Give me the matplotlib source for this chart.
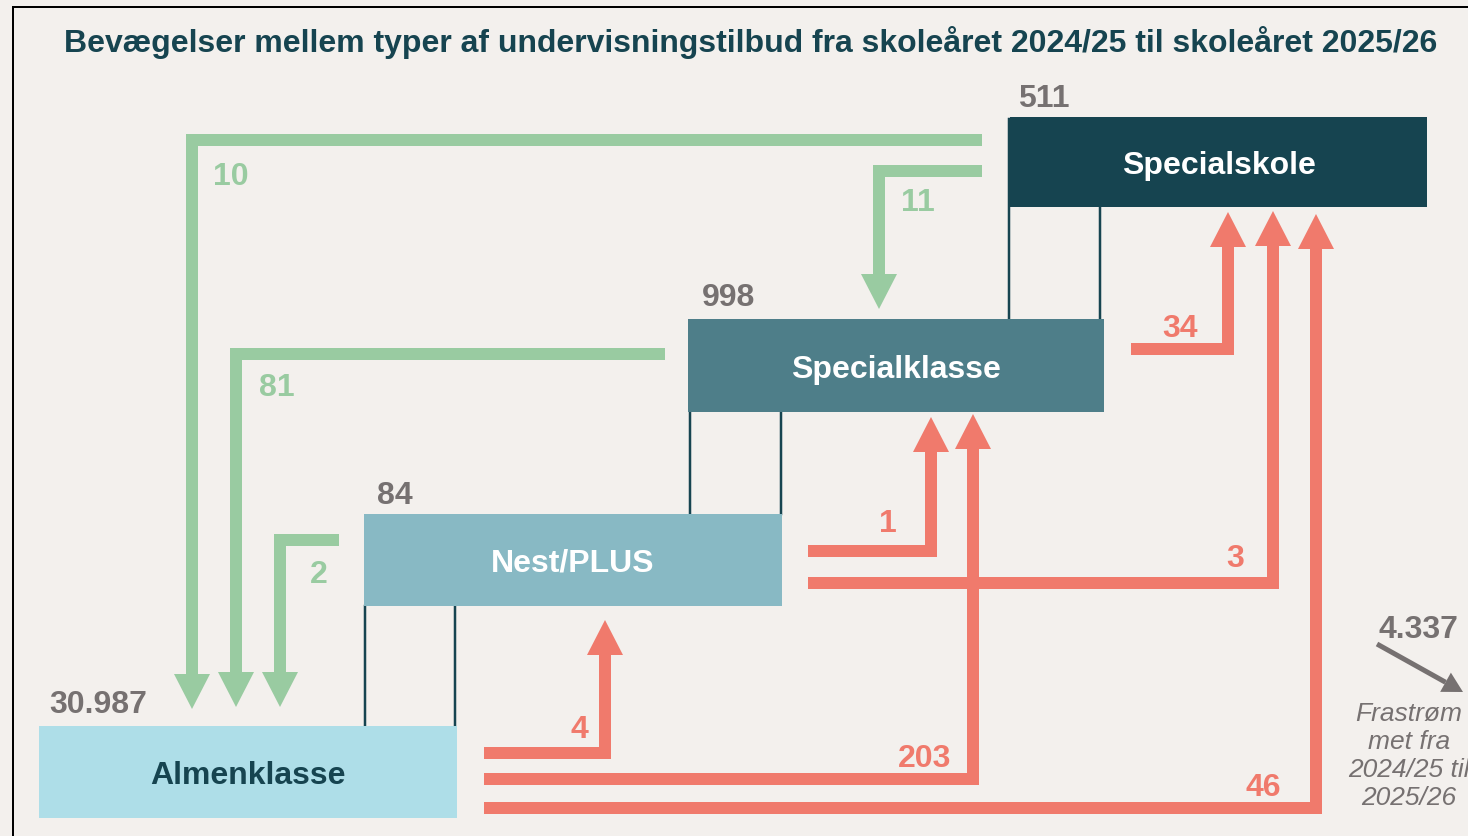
import matplotlib
matplotlib.use("Agg")
import matplotlib.pyplot as plt
from matplotlib.patches import Rectangle, Polygon
import numpy as np

# ---------------- data ----------------
title = "Bevægelser mellem typer af undervisningstilbud fra skoleåret 2024/25 til skoleåret 2025/26"
categories = ["Almenklasse", "Nest/PLUS", "Specialklasse", "Specialskole"]
totals = [30987, 84, 998, 511]

down_src = ["Specialskole", "Specialskole", "Specialklasse", "Nest/PLUS"]
down_dst = ["Almenklasse", "Specialklasse", "Almenklasse", "Almenklasse"]
down_vals = [10, 11, 81, 2]

up_src = ["Specialklasse", "Nest/PLUS", "Nest/PLUS", "Almenklasse", "Almenklasse", "Almenklasse"]
up_dst = ["Specialskole", "Specialklasse", "Specialskole", "Nest/PLUS", "Specialklasse", "Specialskole"]
up_vals = [34, 1, 3, 4, 203, 46]

outflow = 4337
outflow_text = "Frastrøm\nmet fra\n2024/25 til\n2025/26"

# ---------------- layout (pixels) ----------------
W, H = 1468, 837
box_geom = {  # x0, y0, x1, y1
    "Specialskole": (1010, 118, 1427, 208),
    "Specialklasse": (688, 320, 1104, 413),
    "Nest/PLUS": (364, 515, 782, 607),
    "Almenklasse": (39, 727, 457, 819),
}
box_color = {
    "Specialskole": "#164450",
    "Specialklasse": "#4E7E89",
    "Nest/PLUS": "#88B9C4",
    "Almenklasse": "#AEDEE8",
}
box_text_color = {
    "Specialskole": "white",
    "Specialklasse": "white",
    "Nest/PLUS": "white",
    "Almenklasse": "#164450",
}
total_pos = {
    "Specialskole": (1044, 99),
    "Specialklasse": (729, 298),
    "Nest/PLUS": (395, 496),
    "Almenklasse": (98, 705),
}
connectors = {  # (x, y from, y to)
    ("Specialskole", "Specialklasse"): ((1009, 120, 321), (1100, 208, 321)),
    ("Specialklasse", "Nest/PLUS"): ((690, 413, 515), (781, 413, 515)),
    ("Nest/PLUS", "Almenklasse"): ((365, 607, 727), (455, 607, 727)),
}
# route: start x, horizontal y, corner x, tip y ; label position
down_routes = [(982, 141, 192, 710), (982, 172, 879, 310), (665, 355, 236, 708), (339, 541, 280, 708)]
down_label_pos = [(231, 177), (918, 203), (277, 388), (319, 575)]
up_routes = [(1131, 350, 1228, 213), (808, 552, 931, 418), (808, 584, 1273, 212),
             (484, 754, 605, 621), (484, 780, 973, 415), (484, 809, 1316, 215)]
up_label_pos = [(1180, 329), (888, 524), (1235, 559), (579, 730), (925, 759), (1263, 788)]

GREEN = "#99CBA1"
RED = "#F07A6C"
GREY = "#767171"
DARK = "#164450"
BG = "#F3F0ED"
SHAFT_PX = 12
HEAD_W = 36
HEAD_L = 35
PT = 72.0 / 100.0  # points per pixel
FS = 23

FONT = "Liberation Sans"


def fmt(v):
    return f"{v:,}".replace(",", ".")


fig = plt.figure(figsize=(W / 100, H / 100), dpi=100)
fig.patch.set_facecolor(BG)
ax = fig.add_axes([0, 0, 1, 1])
ax.set_xlim(0, W)
ax.set_ylim(H, 0)
ax.axis("off")
ax.set_facecolor(BG)

# frame
ax.plot([13, 13, W + 5], [H + 5, 8, 8], color="black", lw=2 * PT, solid_joinstyle="miter", zorder=1)

# title
ax.text(751, 42, title, ha="center", va="center", fontsize=FS, fontweight="bold",
        color=DARK, family=FONT, zorder=5)

# connectors
for key, lines in connectors.items():
    for (x, y0, y1) in lines:
        ax.plot([x, x], [y0, y1], color=DARK, lw=2.5 * PT, zorder=2)

# boxes
for name in categories:
    x0, y0, x1, y1 = box_geom[name]
    ax.add_patch(Rectangle((x0, y0), x1 - x0, y1 - y0, facecolor=box_color[name],
                           edgecolor="none", zorder=3))
    ax.text((x0 + x1) / 2, (y0 + y1) / 2 + 3, name, ha="center", va="center", fontsize=FS,
            fontweight="bold", color=box_text_color[name], family=FONT, zorder=4)

for name, tot in zip(categories, totals):
    x, y = total_pos[name]
    ax.text(x, y, fmt(tot), ha="center", va="center", fontsize=FS, fontweight="bold",
            color=GREY, family=FONT, zorder=4)


def elbow_arrow(route, color, direction):
    sx, hy, cx, tip = route
    base = tip + HEAD_L * direction  # +1: arrow points up, -1: points down
    ax.plot([sx, cx, cx], [hy, hy, base], color=color, lw=SHAFT_PX * PT,
            solid_joinstyle="miter", solid_capstyle="butt", zorder=2)
    ax.add_patch(Polygon([(cx - HEAD_W / 2, base), (cx + HEAD_W / 2, base), (cx, tip)],
                         closed=True, facecolor=color, edgecolor="none", zorder=2))


for route, val, pos in zip(down_routes, down_vals, down_label_pos):
    elbow_arrow(route, GREEN, -1)
    ax.text(pos[0], pos[1], str(val), ha="center", va="center", fontsize=FS,
            fontweight="bold", color=GREEN, family=FONT, zorder=4)

for route, val, pos in zip(up_routes, up_vals, up_label_pos):
    elbow_arrow(route, RED, +1)
    ax.text(pos[0], pos[1], str(val), ha="center", va="center", fontsize=FS,
            fontweight="bold", color=RED, family=FONT, zorder=4)

# outflow
ax.text(1418, 630, fmt(outflow), ha="center", va="center", fontsize=FS, fontweight="bold",
        color=GREY, family=FONT, zorder=4)
p0 = np.array([1377.0, 645.0])
p1 = np.array([1463.0, 693.0])
d = (p1 - p0) / np.linalg.norm(p1 - p0)
n = np.array([-d[1], d[0]])
hb = p1 - d * 20
ax.plot([p0[0], hb[0]], [p0[1], hb[1]], color=GREY, lw=5 * PT, solid_capstyle="butt", zorder=4)
ax.add_patch(Polygon([hb + n * 11, hb - n * 11, p1], closed=True, facecolor=GREY,
                     edgecolor="none", zorder=4))
ax.text(1409, 756, outflow_text, ha="center", va="center", fontsize=19, fontstyle="italic",
        color=GREY, family=FONT, linespacing=1.2, zorder=4)

fig.savefig("out.png", dpi=100, facecolor=BG)
